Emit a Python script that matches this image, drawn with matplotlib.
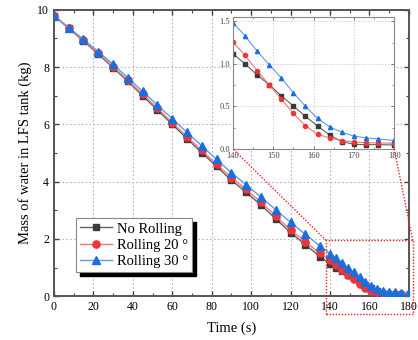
import matplotlib
matplotlib.use("Agg")
import matplotlib.pyplot as plt
from matplotlib.patches import Rectangle
from matplotlib.ticker import MultipleLocator

plt.rcParams['font.family'] = ['Liberation Serif', 'DejaVu Serif']

# Time points
t_main = [0, 7.5, 15, 22.5, 30, 37.5, 45, 52.5, 60, 67.5, 75, 82.5, 90, 97.5,
          105, 112.5, 120, 127.5, 135]
t_tail = [140, 143, 146, 149, 152, 155, 158, 161, 164, 167, 170, 173, 176, 180]

no_rolling_main = [9.80, 9.35, 8.91, 8.45, 7.98, 7.50, 7.00, 6.50, 6.00, 5.50,
                   5.01, 4.53, 4.05, 3.63, 3.18, 2.70, 2.22, 1.80, 1.38]
rolling20_main = [9.80, 9.36, 8.93, 8.48, 8.02, 7.54, 7.05, 6.56, 6.06, 5.57,
                  5.09, 4.61, 4.14, 3.73, 3.28, 2.80, 2.31, 1.90, 1.49]
rolling30_main = [9.80, 9.38, 8.97, 8.54, 8.10, 7.63, 7.15, 6.67, 6.20, 5.72,
                  5.25, 4.78, 4.31, 3.89, 3.46, 3.02, 2.58, 2.16, 1.75]

no_rolling_tail = [1.12, 1.00, 0.87, 0.754, 0.625, 0.504, 0.383, 0.27, 0.164,
                   0.086, 0.055, 0.050, 0.050, 0.047]
rolling20_tail = [1.26, 1.10, 0.92, 0.754, 0.586, 0.418, 0.273, 0.172, 0.129,
                  0.098, 0.082, 0.074, 0.070, 0.067]
rolling30_tail = [1.485, 1.33, 1.15, 0.99, 0.836, 0.66, 0.50, 0.36, 0.26,
                  0.195, 0.152, 0.129, 0.117, 0.10]

labels = ['No Rolling', 'Rolling 20 °', 'Rolling 30 °']
marker_colors = ['#3a3a3a', '#ee3535', '#1a6fe0']
line_colors = ['#606060', '#f07878', '#5a9cf0']
markers = ['s', 'o', '^']
msizes = [5.0, 5.2, 6.0]

t_all = t_main + t_tail
series = [no_rolling_main + no_rolling_tail,
          rolling20_main + rolling20_tail,
          rolling30_main + rolling30_tail]
tails = [no_rolling_tail, rolling20_tail, rolling30_tail]

fig = plt.figure(figsize=(4.18, 3.40), dpi=100)
ax = fig.add_axes([0.129, 0.129, 0.978 - 0.129, 0.971 - 0.129])

for y, lab, mc, lc, mk, ms in zip(series, labels, marker_colors, line_colors, markers, msizes):
    ax.plot(t_all, y, color=lc, lw=1.0, marker=mk, ms=ms, mfc=mc, mec=mc,
            label=lab, zorder=3)

ax.set_xlim(0, 180)
ax.set_ylim(0, 10)
ax.xaxis.set_major_locator(MultipleLocator(20))
ax.xaxis.set_minor_locator(MultipleLocator(10))
ax.yaxis.set_major_locator(MultipleLocator(2))
ax.yaxis.set_minor_locator(MultipleLocator(1))
ax.tick_params(which='both', direction='in', top=True, right=True,
               labelsize=8.5, color='#444444')
ax.tick_params(which='major', length=3.5, width=1.0)
ax.tick_params(which='minor', length=2, width=0.8)
ax.grid(True, which='major', ls=(0, (1.5, 2)), color='#b5b5b5', lw=0.8)
for s in ax.spines.values():
    s.set_linewidth(1.4)
    s.set_color('#555555')
ax.set_xlabel('Time (s)', fontsize=10.5, labelpad=6)
ax.set_ylabel('Mass of water in LFS tank (kg)', fontsize=10.5, labelpad=4)

# zoom rectangle
ax.add_patch(Rectangle((138, -0.63), 44, 2.58, fill=False, ec='#ee2020',
                       ls=(0, (1, 1.2)), lw=1.0, clip_on=False, zorder=4))

leg = ax.legend(loc='upper left', bbox_to_anchor=(0.062, 0.273), borderaxespad=0,
                fontsize=10.5, handlelength=2.2, handletextpad=0.3,
                borderpad=0.3, labelspacing=0.2, fancybox=False,
                edgecolor='#888888', framealpha=1)
leg.get_frame().set_linewidth(0.8)
leg.set_zorder(6)

# inset
axins = fig.add_axes([0.557, 0.562, 0.943 - 0.557, 0.950 - 0.562])
for y, mc, lc, mk in zip(tails, marker_colors, line_colors, markers):
    axins.plot(t_tail, y, color=lc, lw=0.8, marker=mk, ms=3.0, mfc=mc, mec=mc)
axins.set_xlim(140, 180)
axins.set_ylim(0, 1.55)
axins.xaxis.set_major_locator(MultipleLocator(10))
axins.xaxis.set_minor_locator(MultipleLocator(5))
axins.yaxis.set_minor_locator(MultipleLocator(0.25))
axins.tick_params(which='both', direction='in', top=True, right=True,
                  labelsize=6, color='#666666', labelcolor='#444444')
axins.tick_params(axis='x', pad=2)
axins.tick_params(axis='y', pad=2)
axins.tick_params(which='major', length=2.5, width=0.6)
axins.tick_params(which='minor', length=1.5, width=0.5)
axins.grid(True, which='major', ls=(0, (1.5, 2)), color='#c8c8c8', lw=0.6)
axins.set_yticks([0, 0.5, 1.0, 1.5])
axins.set_yticklabels(['0.0', '0.5', '1.0', '1.5'])
for s in axins.spines.values():
    s.set_linewidth(0.8)
    s.set_color('#888888')

fig.canvas.draw()
# connectors from rectangle top corners to inset bottom corners
inv = fig.transFigure.inverted()
p1 = inv.transform(ax.transData.transform((138, 1.95)))
p2 = inv.transform(ax.transData.transform((182, 1.95)))
q1 = inv.transform(axins.transAxes.transform((0, 0)))
q2 = inv.transform(axins.transAxes.transform((1, 0)))
for p, q in [(p1, q1), (p2, q2)]:
    fig.add_artist(plt.Line2D([p[0], q[0]], [p[1], q[1]], transform=fig.transFigure,
                              color='#ee2020', ls=(0, (1, 1.2)), lw=1.0, zorder=0.5))

# legend shadow (in axes coordinates, below the legend)
bb = leg.get_window_extent()
ainv = ax.transAxes.inverted()
ab = ainv.transform([[bb.x0 + 4, bb.y0 - 4], [bb.x1 + 4, bb.y1 - 4]])
ax.add_patch(Rectangle((ab[0][0], ab[0][1]), ab[1][0] - ab[0][0], ab[1][1] - ab[0][1],
                       transform=ax.transAxes, color='black', zorder=5.9,
                       clip_on=False))

fig.savefig('out.png', dpi=100)
